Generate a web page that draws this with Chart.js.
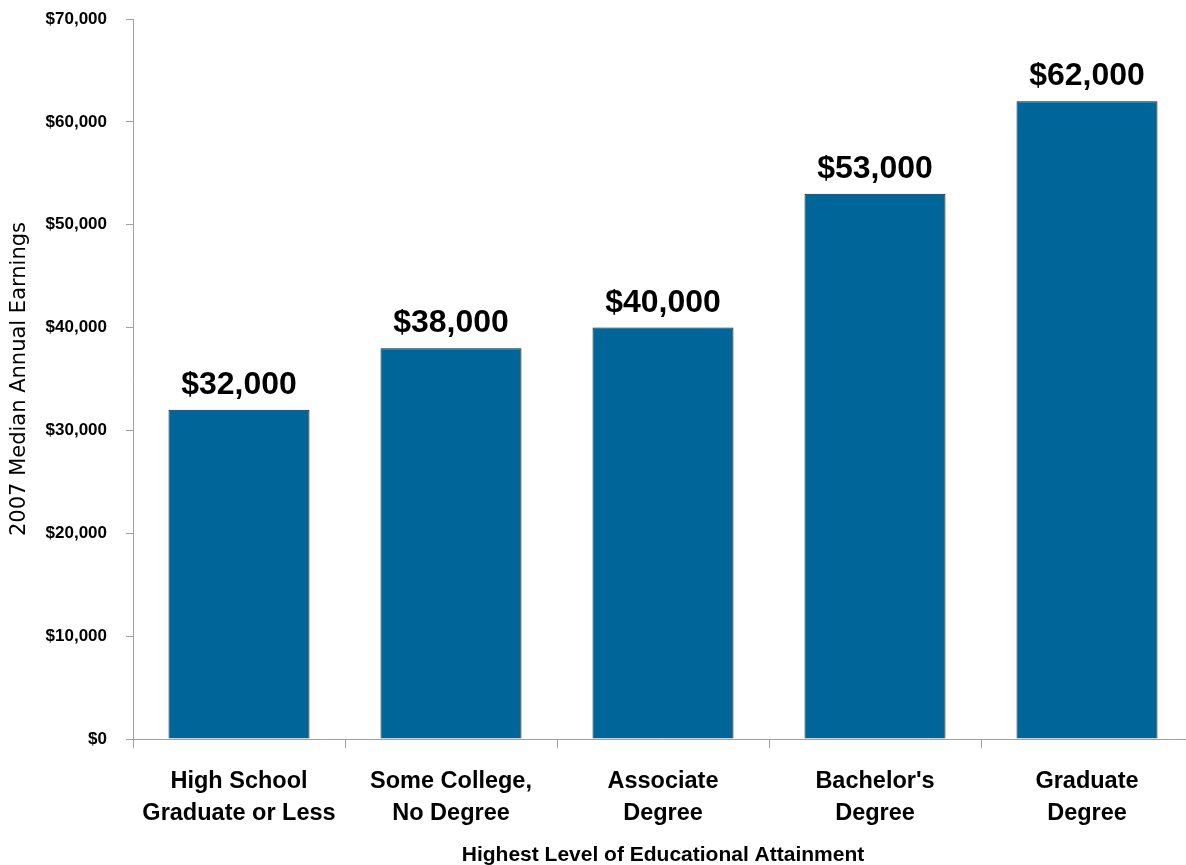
<!DOCTYPE html>
<html>
<head>
<meta charset="utf-8">
<script src="https://cdn.jsdelivr.net/npm/chart.js@4"></script>
<style>
  html, body { margin: 0; padding: 0; background: #ffffff; overflow: hidden; }
  #wrap { width: 1193px; height: 865px; }
</style>
</head>
<body>
<div id="wrap"><canvas id="c" width="1193" height="865"></canvas></div>
<script>
const categories = [
  ["High School", "Graduate or Less"],
  ["Some College,", "No Degree"],
  ["Associate", "Degree"],
  ["Bachelor's", "Degree"],
  ["Graduate", "Degree"]
];
const earnings = [32000, 38000, 40000, 53000, 62000];
const yAxisMin = 0;
const yAxisMax = 70000;
const yAxisStep = 10000;
const yTitle = "2007 Median Annual Earnings";
const xTitle = "Highest Level of Educational Attainment";

const fmt = v => '$' + Number(v).toLocaleString('en-US');
const narrow = '"Liberation Sans Narrow", "Arial Narrow", "Liberation Sans", Arial, sans-serif';

const valueLabels = {
  id: 'valueLabels',
  afterDatasetsDraw(chart) {
    const ctx = chart.ctx;
    const meta = chart.getDatasetMeta(0);
    ctx.save();
    ctx.font = 'bold 32px "Liberation Sans", Arial, sans-serif';
    ctx.fillStyle = '#000000';
    ctx.textAlign = 'center';
    ctx.textBaseline = 'alphabetic';
    meta.data.forEach((bar, i) => {
      ctx.fillText(fmt(chart.data.datasets[0].data[i]), bar.x, bar.y - 16);
    });
    ctx.restore();
  }
};

new Chart(document.getElementById('c'), {
  type: 'bar',
  data: {
    labels: categories,
    datasets: [{
      data: earnings,
      backgroundColor: '#006699',
      borderColor: '#1a1a1a',
      borderWidth: 1,
      barPercentage: 1,
      categoryPercentage: 0.665
    }]
  },
  options: {
    responsive: false,
    animation: false,
    devicePixelRatio: 1,
    layout: { padding: { top: 19, right: 0, bottom: 0, left: 0 } },
    plugins: { legend: { display: false }, tooltip: { enabled: false } },
    scales: {
      x: {
        grid: { display: true, drawOnChartArea: false, drawTicks: true, tickLength: 9, color: '#a0a0a0', offset: true },
        border: { display: true, color: '#a0a0a0', width: 1 },
        ticks: {
          color: '#000000',
          padding: 18,
          maxRotation: 0,
          autoSkip: false,
          font: { family: narrow, size: 23.5, weight: 'bold', lineHeight: 1.36 }
        },
        title: {
          display: true,
          text: xTitle,
          color: '#000000',
          padding: { top: 0, bottom: 0 },
          font: { family: '"Liberation Sans", Arial, sans-serif', size: 21, weight: 'bold', lineHeight: 0.9 }
        },
        afterFit(scale) { scale.height = 126; scale.paddingLeft = 0; scale.paddingRight = 0; }
      },
      y: {
        min: yAxisMin,
        max: yAxisMax,
        grid: { display: true, drawOnChartArea: false, drawTicks: true, tickLength: 7, color: '#a0a0a0' },
        border: { display: true, color: '#a0a0a0', width: 1 },
        ticks: {
          stepSize: yAxisStep,
          color: '#000000',
          padding: 19,
          callback: v => fmt(v),
          font: { family: narrow, size: 17, weight: 'bold' }
        },
        title: {
          display: true,
          text: yTitle,
          color: '#000000',
          padding: { top: 7, bottom: 0 },
          font: { family: '"DejaVu Sans", "Liberation Sans", Arial, sans-serif', size: 21, weight: 'normal', lineHeight: 1.2 }
        },
        afterFit(scale) { scale.width = 133; scale.paddingTop = 0; scale.paddingBottom = 0; }
      }
    }
  },
  plugins: [valueLabels]
});
</script>
</body>
</html>
